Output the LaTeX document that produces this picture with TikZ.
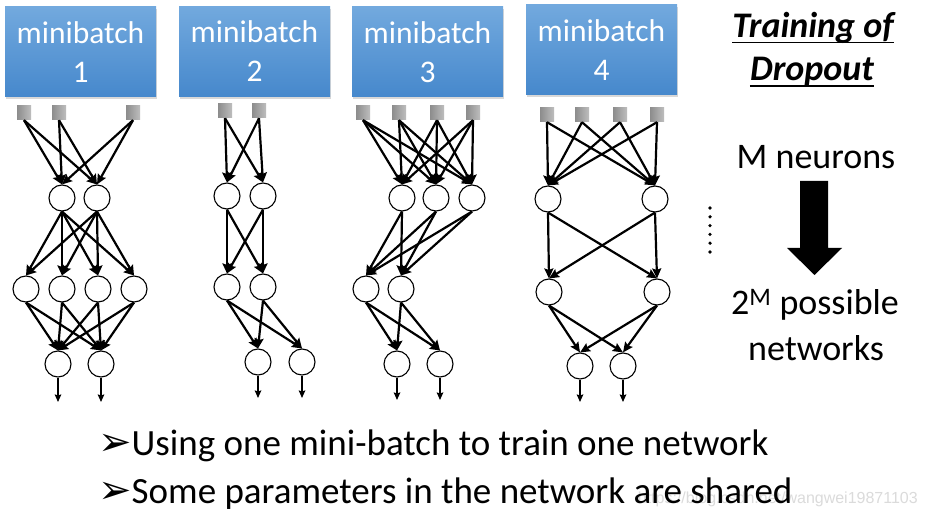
\documentclass[tikz,border=0pt]{standalone}
\usepackage{fontspec}
\setmainfont{Carlito}
\newfontfamily\dejavu{DejaVu Sans}
\newfontfamily\wmfont{Liberation Sans}
\usetikzlibrary{arrows.meta,shadows}
\definecolor{boxtop}{RGB}{114,169,222}
\definecolor{boxbot}{RGB}{70,136,204}
\definecolor{sqdark}{RGB}{140,140,140}
\definecolor{sqlight}{RGB}{190,190,190}
\newcommand{\bulletarrow}{{\dejavu\fontsize{40}{40}\selectfont ➢}}
\begin{document}
\begin{tikzpicture}[x=1pt,y=-1pt,
  batch/.style={rectangle, minimum width=151pt, minimum height=90pt, inner sep=0pt,
    top color=boxtop, bottom color=boxbot, text=white, align=center,
    font=\fontsize{31.5}{39}\selectfont,
    drop shadow={opacity=0.3, shadow xshift=1pt, shadow yshift=-2.5pt}},
  inp/.style={rectangle, minimum size=14pt, inner sep=0pt, left color=sqdark, right color=sqlight},
  neu/.style={circle, draw=black, line width=1.1pt, fill=white, minimum size=26pt, inner sep=0pt},
  conn/.style={line width=2.2pt, -{Stealth[length=10pt,width=9pt,inset=1.5pt]}},
  outa/.style={line width=1.7pt, -{Stealth[length=7.5pt,width=6.5pt,inset=1pt]}},
  bigtxt/.style={font=\fontsize{36}{40}\selectfont, inner sep=0pt},
  titletxt/.style={font=\fontsize{36}{40}\selectfont\bfseries\itshape, inner sep=0pt},
  bullettxt/.style={font=\fontsize{37}{42}\selectfont, inner sep=0pt, anchor=base west},
]
\useasboundingbox (0,0) rectangle (928,521);
\fill[white] (0,0) rectangle (928,521);

% ---- minibatch boxes
\node[batch] (b1) at (80.5,52) {minibatch\\1};
\node[batch] (b2) at (254.5,51.5) {minibatch\\2};
\node[batch] (b3) at (427.5,52) {minibatch\\3};
\node[batch] (b4) at (601.5,50) {minibatch\\4};

% ---- network 1
\foreach \i/\x in {1/24,2/59,3/133} \node[inp] (n1i\i) at (\x,113) {};
\foreach \i/\x in {1/62,2/97} \node[neu] (n1a\i) at (\x,198) {};
\foreach \i/\x in {1/26,2/62,3/98,4/134} \node[neu] (n1b\i) at (\x,289) {};
\foreach \i/\x in {1/58,2/101} {\node[neu] (n1c\i) at (\x,364) {};
  \coordinate (n1o\i) at (\x,402);}
\foreach \s in {1,2,3} \foreach \t in {1,2} \draw[conn] (n1i\s.south) -- (n1a\t.north);
\foreach \s in {1,2} \foreach \t in {1,2,3,4} \draw[conn] (n1a\s.south) -- (n1b\t.north);
\foreach \s in {1,2,3,4} \foreach \t in {1,2} \draw[conn] (n1b\s.south) -- (n1c\t.north);
\foreach \s in {1,2} \draw[outa] (n1c\s.south) -- (n1o\s);

% ---- network 2
\foreach \i/\x in {1/225,2/259} \node[inp] (n2i\i) at (\x,111) {};
\foreach \i/\x in {1/227,2/263} \node[neu] (n2a\i) at (\x,196) {};
\foreach \i/\x in {1/227,2/263} \node[neu] (n2b\i) at (\x,287) {};
\foreach \i/\x in {1/258,2/302} {\node[neu] (n2c\i) at (\x,362) {};
  \coordinate (n2o\i) at (\x,398);}
\foreach \s in {1,2} \foreach \t in {1,2} \draw[conn] (n2i\s.south) -- (n2a\t.north);
\foreach \s in {1,2} \foreach \t in {1,2} \draw[conn] (n2a\s.south) -- (n2b\t.north);
\foreach \s in {1,2} \foreach \t in {1,2} \draw[conn] (n2b\s.south) -- (n2c\t.north);
\foreach \s in {1,2} \draw[outa] (n2c\s.south) -- (n2o\s);

% ---- network 3
\foreach \i/\x in {1/363,2/399,3/437,4/473} \node[inp] (n3i\i) at (\x,113) {};
\foreach \i/\x in {1/402,2/436,3/472} \node[neu] (n3a\i) at (\x,198) {};
\foreach \i/\x in {1/366,2/401} \node[neu] (n3b\i) at (\x,289) {};
\foreach \i/\x in {1/397,2/440} {\node[neu] (n3c\i) at (\x,364) {};
  \coordinate (n3o\i) at (\x,400);}
\foreach \s in {1,2,3,4} \foreach \t in {1,2,3} \draw[conn] (n3i\s.south) -- (n3a\t.north);
\foreach \s in {1,2,3} \foreach \t in {1,2} \draw[conn] (n3a\s.south) -- (n3b\t.north);
\foreach \s in {1,2} \foreach \t in {1,2} \draw[conn] (n3b\s.south) -- (n3c\t.north);
\foreach \s in {1,2} \draw[outa] (n3c\s.south) -- (n3o\s);

% ---- network 4
\foreach \i/\x in {1/547,2/582,3/620,4/657} \node[inp] (n4i\i) at (\x,115) {};
\foreach \i/\x in {1/548,2/655} \node[neu] (n4a\i) at (\x,199) {};
\foreach \i/\x in {1/549,2/657} \node[neu] (n4b\i) at (\x,292) {};
\foreach \i/\x in {1/580,2/623} {\node[neu] (n4c\i) at (\x,366) {};
  \coordinate (n4o\i) at (\x,402);}
\foreach \s in {1,2,3,4} \foreach \t in {1,2} \draw[conn] (n4i\s.south) -- (n4a\t.north);
\foreach \s in {1,2} \foreach \t in {1,2} \draw[conn] (n4a\s.south) -- (n4b\t.north);
\foreach \s in {1,2} \foreach \t in {1,2} \draw[conn] (n4b\s.south) -- (n4c\t.north);
\foreach \s in {1,2} \draw[outa] (n4c\s.south) -- (n4o\s);

% ---- vertical dots
\foreach \k in {0,...,5} \fill (710,{208+\k*8.8}) circle (1.8pt);

% ---- right side texts
\node[titletxt] (t1) at (813,28) {Training of};
\node[titletxt] (t2) at (812,72) {Dropout};
\draw[line width=1.8pt] ([yshift=-5pt]t1.base west) -- ([yshift=-5pt]t1.base east);
\draw[line width=1.8pt] ([yshift=-5pt]t2.base west) -- ([yshift=-5pt]t2.base east);
\node[bigtxt] (mn) at (816,157) {M neurons};
\fill (800,181) -- (828,181) -- (828,248) -- (842,248) -- (814.5,275) -- (787,248) -- (800,248) -- cycle;
\node[bigtxt] (pn) at (815,305) {2\textsuperscript{M} possible};
\node[bigtxt] (nw) at (816,348) {networks};

% ---- watermark
\node[font=\wmfont\fontsize{16}{18}\selectfont, text=black!14, anchor=base east, inner sep=0pt] (wm) at (918,503) {https://blog.csdn.net/wangwei19871103};

% ---- bullets
\node[bullettxt] (l1) at (98,455) {\bulletarrow Using one mini-batch to train one network};
\node[bullettxt] (l2) at (98,503) {\bulletarrow Some parameters in the network are shared};
\end{tikzpicture}
\end{document}
